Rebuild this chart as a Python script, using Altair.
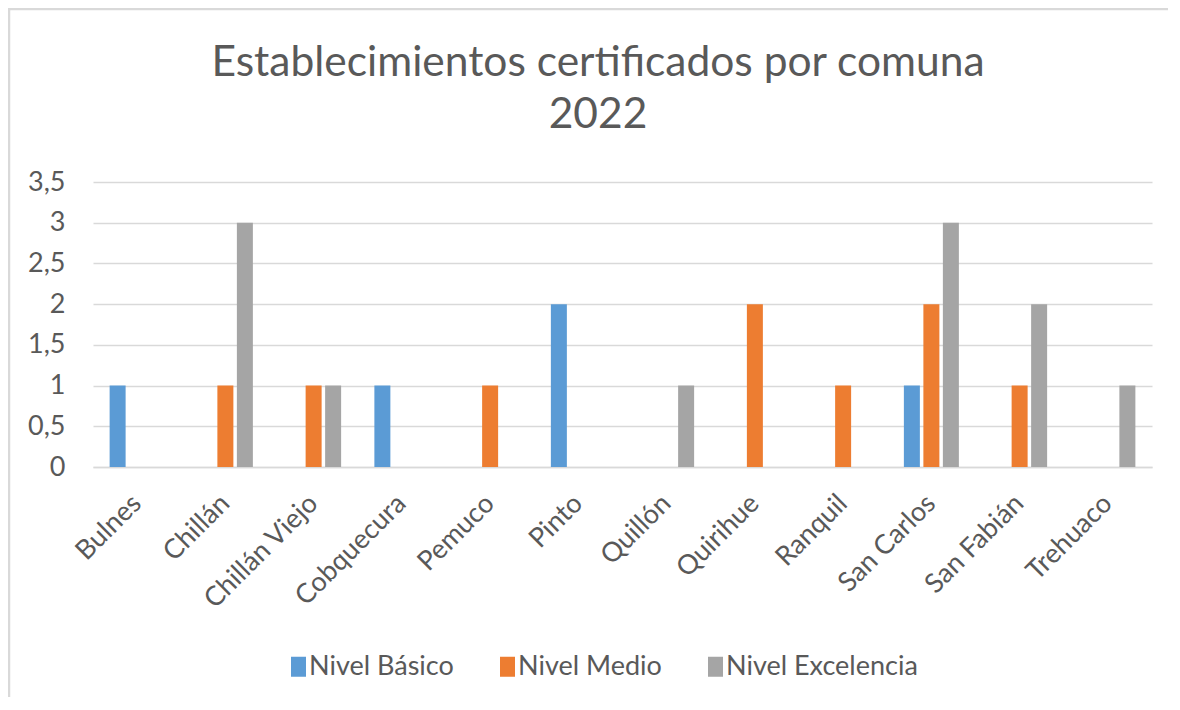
import altair as alt
import pandas as pd

comunas = ["Bulnes", "Chillán", "Chillán Viejo", "Cobquecura", "Pemuco", "Pinto",
           "Quillón", "Quirihue", "Ranquil", "San Carlos", "San Fabián", "Trehuaco"]
series = ["Nivel Básico", "Nivel Medio", "Nivel Excelencia"]
basico = [1, 0, 0, 1, 0, 2, 0, 0, 0, 1, 0, 0]
medio = [0, 1, 1, 0, 1, 0, 0, 2, 1, 2, 1, 0]
excelencia = [0, 3, 1, 0, 0, 0, 1, 0, 0, 3, 2, 1]
colors = ["#5B9BD5", "#ED7D31", "#A5A5A5"]
y_ticks = [0, 0.5, 1, 1.5, 2, 2.5, 3, 3.5]

rows = []
for s, vals in zip(series, [basico, medio, excelencia]):
    for c, v in zip(comunas, vals):
        rows.append({"Comuna": c, "Nivel": s, "Valor": v})
df = pd.DataFrame(rows)

FONT = "Lato"
GREY = "#595959"
W, H = 1059, 285
FS = 27

bars = alt.Chart(df).mark_bar().encode(
    x=alt.X("Comuna:N", sort=comunas,
            scale=alt.Scale(paddingInner=0.337, paddingOuter=0.1685),
            axis=alt.Axis(title=None, labelAngle=-45, labelAlign="right", labelBaseline="middle",
                          labelFont=FONT, labelFontSize=FS, labelColor=GREY, ticks=False,
                          domainColor="#D9D9D9", domainWidth=1.5, labelPadding=32)),
    xOffset=alt.XOffset("Nivel:N", sort=series,
                        scale=alt.Scale(domain=series, paddingInner=0.18, paddingOuter=0.09)),
    y=alt.Y("Valor:Q", scale=alt.Scale(domain=[0, 3.5], nice=False),
            axis=alt.Axis(title=None, values=y_ticks, grid=True, gridColor="#D9D9D9", gridWidth=1.5,
                          ticks=False, domain=False, labelFont=FONT, labelFontSize=FS,
                          labelColor=GREY, labelPadding=28,
                          labelExpr="replace(toString(datum.value), '.', ',')")),
    color=alt.Color("Nivel:N", sort=series,
                    scale=alt.Scale(domain=series, range=colors),
                    legend=alt.Legend(title=None, orient="none", direction="horizontal",
                                      legendX=188, legendY=471,
                                      symbolType="M-0.35,-1L1.15,-1L1.15,1L-0.35,1Z",
                                      symbolSize=400, symbolStrokeWidth=0, labelFont=FONT,
                                      labelFontSize=FS, labelColor=GREY, labelOffset=1,
                                      labelLimit=0, columnPadding=36)),
)

frame = alt.Chart(alt.Data(values=[{}])).mark_rect(
    fill=None, stroke="#D9D9D9", strokeWidth=2.5
).encode(
    x=alt.value(-84), y=alt.value(-173), x2=alt.value(W + 200), y2=alt.value(H + 400)
)

chart = alt.layer(frame, bars).properties(
    width=W, height=H,
    autosize=alt.AutoSizeParams(type="none"),
    padding={"left": 85, "top": 174, "right": 16, "bottom": 230},
    title=alt.TitleParams(
        text=["Establecimientos certificados por comuna", "2022"],
        font=FONT, fontSize=42.5, fontWeight="normal", color=GREY,
        lineHeight=52, anchor="middle", dx=-24.5, offset=-129,
    ),
).configure_view(stroke=None)

chart.save("out.html", embed_options={"renderer": "svg", "actions": False})
